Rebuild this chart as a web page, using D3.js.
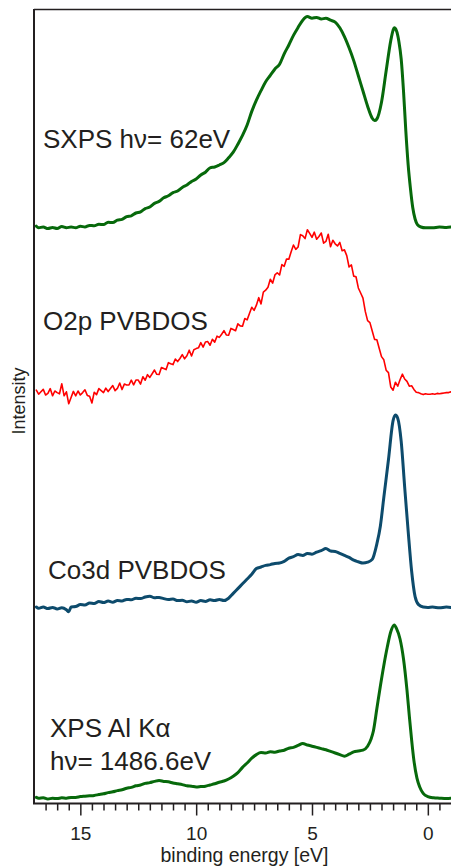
<!DOCTYPE html>
<html>
<head>
<meta charset="utf-8">
<script src="https://cdn.jsdelivr.net/npm/d3@7"></script>
<style>
  html, body { margin: 0; padding: 0; background: #fff; }
  svg { display: block; font-family: "Liberation Sans", Arial, Helvetica, sans-serif; }
</style>
</head>
<body>
<svg id="chart" width="451" height="866"></svg>
<script>
// Valence band spectra of Co3O4, stacked with vertical offsets (arb. units).
// Each pair is [binding energy (eV), intensity].

const sxps = [
  [16.9,72.1],[16.8,71.9],[16.6,72.0],[16.4,71.8],[16.2,71.95],[16.0,71.8],[15.8,72.05],[15.6,71.9],
  [15.4,72.0],[15.2,71.9],[15.0,72.1],[14.8,72.0],[14.6,72.2],[14.4,72.15],[14.2,72.35],[14.0,72.3],
  [13.8,72.6],[13.6,72.55],[13.4,72.85],[13.2,72.95],[13.0,73.3],[12.8,73.4],[12.6,73.75],[12.4,73.9],
  [12.2,74.3],[12.0,74.5],[11.8,74.95],[11.6,75.2],[11.4,75.65],[11.2,75.9],[11.0,76.3],[10.8,76.5],
  [10.6,76.95],[10.4,77.25],[10.2,77.7],[10.0,78.0],[9.8,78.5],[9.6,78.85],[9.4,79.4],[9.2,79.5],
  [9.0,79.75],[8.8,80.05],[8.6,80.65],[8.4,81.35],[8.2,82.35],[8.0,83.45],[7.8,84.75],[7.6,86.45],
  [7.4,87.85],[7.2,89.05],[7.0,90.15],[6.8,90.95],[6.6,91.75],[6.4,92.35],[6.2,93.65],[6.0,94.75],
  [5.8,95.95],[5.6,96.95],[5.4,97.85],[5.2,98.3],[5.0,98.1],[4.8,98.2],[4.6,98.0],[4.4,98.1],
  [4.2,97.85],[4.0,97.6],[3.8,96.9],[3.6,95.8],[3.4,94.4],[3.2,92.8],[3.0,90.9],[2.8,89.0],
  [2.6,87.1],[2.4,85.6],[2.3,85.3],[2.2,85.5],[2.0,87.6],[1.8,91.5],[1.6,95.3],[1.5,96.6],
  [1.45,96.9],[1.35,96.5],[1.25,95.2],[1.15,93.0],[1.05,89.0],[0.95,84.0],[0.85,79.8],[0.75,76.8],
  [0.65,74.4],[0.55,73.0],[0.45,72.3],[0.3,72.0],[0.1,71.9],[-0.2,71.9],[-0.5,72.0],[-0.8,71.95],[-1.0,72.0]
];

// O 2p partial DOS, sampled every 0.1 eV from 16.9 eV down to -1.0 eV
const o2pStart = 16.9;
const o2pStep = 0.1;
const o2pIntensity = [
  51.6,51.1,51.4,51.7,51.0,51.2,51.8,50.9,51.5,51.3,
  51.15,52.4,50.9,51.4,49.9,50.7,51.45,50.9,51.5,51.0,
  51.3,51.65,50.95,50.85,50.0,51.35,51.05,51.8,51.55,51.3,
  51.85,51.43,51.8,52.18,51.54,51.82,52.5,51.68,52.36,52.25,
  52.25,52.86,52.27,52.87,52.87,52.37,53.28,52.84,53.54,53.2,
  53.65,54.12,53.59,53.56,54.43,54.3,54.17,55.04,54.91,54.8,
  55.5,55.18,55.56,56.04,55.52,55.9,56.6,55.88,56.66,56.8,
  56.9,57.54,56.99,57.63,57.68,57.22,57.96,57.61,58.35,58.2,
  58.6,59.05,58.51,58.47,59.32,59.18,59.03,59.89,59.64,59.6,
  60.56,60.39,61.18,61.97,61.58,62.23,63.17,62.39,63.87,64.1,
  64.48,65.47,64.98,66.01,66.28,66.0,67.3,67.09,68.0,67.98,
  68.9,69.75,69.2,69.5,71.05,70.9,70.55,71.65,71.2,70.7,
  71.35,70.48,70.82,71.25,69.98,70.2,71.1,69.53,70.35,69.9,
  69.63,70.08,69.04,69.14,68.42,67.0,67.26,65.86,65.78,64.38,
  63.75,63.1,61.45,60.3,60.05,59.0,57.95,57.9,56.85,55.8,
  55.4,54.1,53.8,52.0,51.6,52.6,52.1,52.9,53.6,53.0,
  52.7,52.1,52.15,51.7,51.35,51.3,51.15,51.05,51.15,51.1,
  51.1,51.15,51.1,51.2,51.15,51.2,51.25,51.3,51.3,51.4
];

const co3d = [
  [16.9,24.5],[16.8,24.35],[16.6,24.5],[16.4,24.3],[16.2,24.45],[16.0,24.25],[15.8,24.4],[15.6,24.15],
  [15.5,23.9],[15.4,24.5],[15.2,24.55],[15.0,24.8],[14.8,24.75],[14.6,25.0],[14.4,24.95],[14.2,25.2],
  [14.0,25.05],[13.8,25.25],[13.6,25.1],[13.4,25.3],[13.2,25.25],[13.0,25.45],[12.8,25.4],[12.6,25.6],
  [12.4,25.55],[12.2,25.75],[12.0,25.85],[11.8,25.65],[11.6,25.7],[11.4,25.55],[11.2,25.45],[11.0,25.5],
  [10.8,25.3],[10.6,25.35],[10.4,25.15],[10.2,25.25],[10.0,25.1],[9.8,25.3],[9.6,25.2],[9.4,25.4],
  [9.2,25.3],[9.0,25.45],[8.8,25.3],[8.6,25.6],[8.4,26.2],[8.2,26.8],[8.0,27.4],[7.8,28.0],
  [7.6,28.6],[7.4,29.3],[7.2,29.5],[7.0,29.7],[6.8,29.8],[6.6,29.95],[6.4,30.0],[6.2,30.2],
  [6.0,30.6],[5.8,30.8],[5.6,31.05],[5.4,30.95],[5.2,31.2],[5.0,31.1],[4.8,31.35],[4.6,31.55],
  [4.4,31.8],[4.2,31.5],[4.0,31.45],[3.8,31.2],[3.6,30.95],[3.4,30.7],[3.2,30.35],[3.0,30.15],
  [2.8,30.0],[2.6,30.1],[2.4,30.45],[2.2,32.4],[2.05,34.6],[1.9,38.2],[1.7,42.9],[1.5,47.8],
  [1.4,48.5],[1.3,48.1],[1.15,45.2],[1.0,39.5],[0.85,34.0],[0.7,29.0],[0.55,25.8],[0.4,24.8],
  [0.2,24.5],[0.0,24.45],[-0.2,24.5],[-0.5,24.4],[-0.8,24.5],[-1.0,24.45]
];

const xpsAlKa = [
  [16.9,0.7],[16.8,0.6],[16.6,0.65],[16.4,0.5],[16.2,0.6],[16.0,0.55],[15.8,0.65],[15.6,0.6],
  [15.4,0.7],[15.2,0.7],[15.0,0.8],[14.8,0.85],[14.6,0.9],[14.4,0.95],[14.2,1.05],[14.0,1.15],
  [13.8,1.3],[13.6,1.4],[13.4,1.55],[13.2,1.65],[13.0,1.85],[12.8,1.95],[12.6,2.15],[12.4,2.25],
  [12.2,2.45],[12.0,2.55],[11.8,2.7],[11.6,2.8],[11.4,2.7],[11.2,2.65],[11.0,2.5],[10.8,2.4],
  [10.6,2.3],[10.4,2.15],[10.2,2.1],[10.0,2.0],[9.8,2.05],[9.6,2.1],[9.4,2.25],[9.2,2.4],
  [9.0,2.6],[8.8,2.75],[8.6,3.0],[8.4,3.35],[8.2,3.8],[8.0,4.45],[7.8,5.0],[7.6,5.6],
  [7.4,6.05],[7.2,6.3],[7.0,6.25],[6.8,6.4],[6.6,6.35],[6.4,6.5],[6.2,6.6],[6.0,6.85],
  [5.8,6.95],[5.6,7.2],[5.4,7.45],[5.2,7.25],[5.0,7.1],[4.8,6.95],[4.6,6.8],[4.4,6.65],
  [4.2,6.45],[4.0,6.25],[3.8,6.05],[3.6,5.85],[3.4,6.1],[3.2,6.4],[3.0,6.5],[2.8,6.6],
  [2.6,7.1],[2.45,8.0],[2.35,9.0],[2.2,11.8],[2.05,14.6],[1.9,17.2],[1.75,19.5],[1.6,21.4],
  [1.45,22.25],[1.35,21.8],[1.2,20.5],[1.05,18.0],[0.9,14.1],[0.8,10.9],[0.7,7.9],[0.6,5.3],
  [0.47,3.1],[0.35,2.0],[0.2,1.2],[0.0,0.8],[-0.25,0.65],[-0.5,0.6],[-0.8,0.55],[-1.0,0.6]
];

const spectrumLabels = [
  ["SXPS h\u03bd= 62eV"],
  ["O2p PVBDOS"],
  ["Co3d PVBDOS"],
  ["XPS Al K\u03b1", "h\u03bd= 1486.6eV"]
];

const majorTicks = [15, 10, 5, 0];
const minorTicks = [16.5,16,15.5,14.5,14,13.5,13,12.5,12,11.5,11,10.5,9.5,9,8.5,8,7.5,7,6.5,6,5.5,4.5,4,3.5,3,2.5,2,1.5,1,0.5,-0.5];
const xTitle = "binding energy [eV]";
const yTitle = "Intensity";

// ---- layout ----
const plot = { left: 34, right: 451, top: 9, bottom: 803 };
const textColor = "#231f20";

const x = d3.scaleLinear().domain([17, -1]).range([plot.left, plot.right]);
const y = d3.scaleLinear().domain([0, 99.25]).range([plot.bottom, plot.top]);

const svg = d3.select("#chart");

svg.append("defs").append("clipPath").attr("id", "plot-clip")
  .append("rect")
  .attr("x", plot.left).attr("y", plot.top)
  .attr("width", plot.right - plot.left).attr("height", plot.bottom - plot.top);

const o2p = o2pIntensity.map((v, i) => [+(o2pStart - o2pStep * i).toFixed(2), v]);

const series = [
  { data: sxps, color: "#07690b", width: 3, curve: d3.curveMonotoneX },
  { data: o2p, color: "#ff0000", width: 1.6, curve: d3.curveLinear },
  { data: co3d, color: "#0d4b6c", width: 3, curve: d3.curveMonotoneX },
  { data: xpsAlKa, color: "#07690b", width: 3, curve: d3.curveMonotoneX }
];

const traces = svg.append("g").attr("clip-path", "url(#plot-clip)");
series.forEach(s => {
  const line = d3.line().x(d => x(d[0])).y(d => y(d[1])).curve(s.curve);
  traces.append("path")
    .attr("d", line(s.data))
    .attr("fill", "none")
    .attr("stroke", s.color)
    .attr("stroke-width", s.width)
    .attr("stroke-linejoin", "round")
    .attr("stroke-linecap", "round");
});

// frame: left and top edges
svg.append("line")
  .attr("x1", plot.left).attr("x2", plot.left)
  .attr("y1", plot.top).attr("y2", plot.bottom)
  .attr("stroke", textColor).attr("stroke-width", 2);
svg.append("line")
  .attr("x1", plot.left).attr("x2", plot.right)
  .attr("y1", plot.top + 0.5).attr("y2", plot.top + 0.5)
  .attr("stroke", textColor).attr("stroke-width", 1.5);

// bottom axis with major and minor ticks
const axisG = svg.append("g").attr("transform", `translate(0,${plot.bottom + 0.5})`);
const minorAxis = d3.axisBottom(x).tickValues(minorTicks).tickSize(7).tickSizeOuter(0).tickFormat("");
const majorAxis = d3.axisBottom(x).tickValues(majorTicks).tickSize(12).tickSizeOuter(0).tickFormat(d3.format("d"));
const gMinor = axisG.append("g").call(minorAxis);
const gMajor = axisG.append("g").call(majorAxis);
[gMinor, gMajor].forEach(g => {
  g.select(".domain").remove();
  g.selectAll(".tick line").attr("stroke", textColor).attr("stroke-width", 1.5);
});
gMajor.selectAll(".tick text")
  .attr("y", 36).attr("dy", 0)
  .attr("fill", textColor)
  .style("font-size", "19px")
  .style("font-family", "'Liberation Sans', Arial, sans-serif");
axisG.append("line")
  .attr("x1", plot.left - 1).attr("x2", plot.right)
  .attr("y1", 0).attr("y2", 0)
  .attr("stroke", textColor).attr("stroke-width", 2);

// axis titles
svg.append("text")
  .attr("x", (plot.left + plot.right) / 2 + 2)
  .attr("y", 862)
  .attr("text-anchor", "middle")
  .attr("fill", textColor)
  .style("font-size", "19.5px")
  .text(xTitle);

svg.append("text")
  .attr("transform", "translate(25,401) rotate(-90)")
  .attr("text-anchor", "middle")
  .attr("fill", textColor)
  .style("font-size", "18px")
  .text(yTitle);

// spectrum labels
const labelPos = [
  { x: 43, y: 148 },
  { x: 43, y: 330 },
  { x: 48, y: 579 },
  { x: 50, y: 737 }
];
spectrumLabels.forEach((lines, i) => {
  const t = svg.append("text")
    .attr("x", labelPos[i].x)
    .attr("y", labelPos[i].y)
    .attr("fill", textColor)
    .style("font-size", "26px");
  lines.forEach((ln, j) => {
    t.append("tspan")
      .attr("x", labelPos[i].x)
      .attr("dy", j === 0 ? 0 : 33)
      .text(ln);
  });
});
</script>
</body>
</html>
